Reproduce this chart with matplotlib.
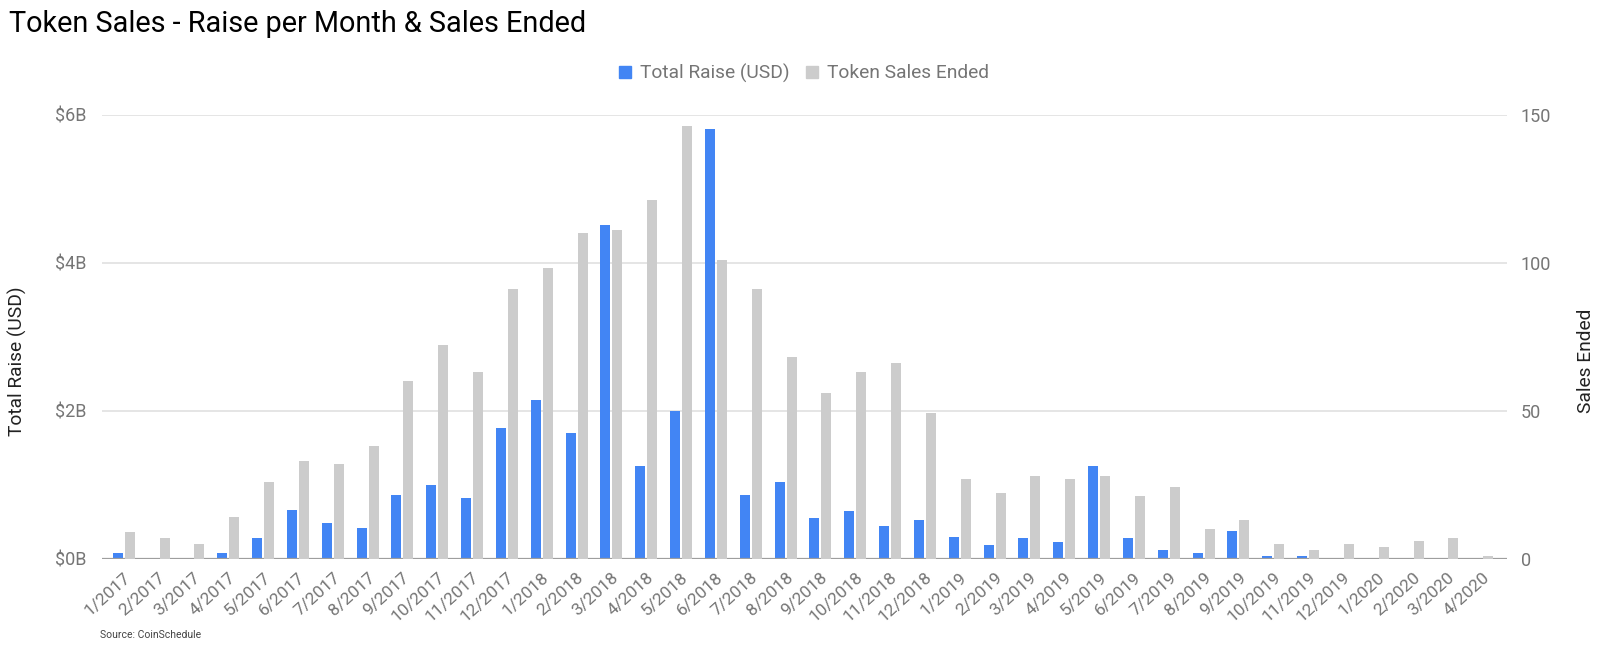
import matplotlib
matplotlib.use("Agg")
import matplotlib.pyplot as plt
import numpy as np
from matplotlib.lines import Line2D
from matplotlib.ticker import FuncFormatter

months = ["1/2017", "2/2017", "3/2017", "4/2017", "5/2017", "6/2017", "7/2017", "8/2017",
          "9/2017", "10/2017", "11/2017", "12/2017", "1/2018", "2/2018", "3/2018", "4/2018",
          "5/2018", "6/2018", "7/2018", "8/2018", "9/2018", "10/2018", "11/2018", "12/2018",
          "1/2019", "2/2019", "3/2019", "4/2019", "5/2019", "6/2019", "7/2019", "8/2019",
          "9/2019", "10/2019", "11/2019", "12/2019", "1/2020", "2/2020", "3/2020", "4/2020"]

# Total raise, billions USD
total_raise_b = [0.07, 0.0, 0.0, 0.07, 0.28, 0.66, 0.48, 0.41, 0.86, 0.99, 0.82, 1.77,
                 2.14, 1.70, 4.51, 1.25, 2.00, 5.81, 0.86, 1.03, 0.55, 0.64, 0.44, 0.52,
                 0.29, 0.18, 0.28, 0.22, 1.25, 0.28, 0.11, 0.07, 0.37, 0.036, 0.03, 0.013,
                 0.013, 0.0, 0.0, 0.0]

# Token sales ended (count)
sales_ended = [9, 7, 5, 14, 26, 33, 32, 38, 60, 72, 63, 91,
               98, 110, 111, 121, 146, 101, 91, 68, 56, 63, 66, 49,
               27, 22, 28, 27, 28, 21, 24, 10, 13, 5, 3, 5,
               4, 6, 7, 1]

left_ticks = [0, 2, 4, 6]
right_ticks = [0, 50, 100, 150]

BLUE = "#4285F4"
GRAY = "#CCCCCC"
FONT = "Roboto"

plt.rcParams["font.family"] = [FONT, "DejaVu Sans"]

fig = plt.figure(figsize=(16, 6.46), dpi=100)
ax = fig.add_axes([0.0636, 0.1354, 0.8781, 0.6873])
ax2 = ax.twinx()

x = np.arange(len(months))
w = 0.287
off = 0.172

ax.bar(x - off, total_raise_b, width=w, color=BLUE, zorder=3)
ax2.bar(x + off, sales_ended, width=w, color=GRAY, zorder=3)

ax.set_xlim(-0.63, 39.7)
ax.set_ylim(0, 6)
ax2.set_ylim(0, 150)

ax.set_yticks(left_ticks)
ax.yaxis.set_major_formatter(FuncFormatter(lambda v, p: f"${v:.0f}B"))
ax2.set_yticks(right_ticks)

for a in (ax, ax2):
    for s in a.spines.values():
        s.set_visible(False)

ax.grid(axis="y", color="#E0E0E0", linewidth=1.2, zorder=0)
ax.set_axisbelow(True)
ax.axhline(0, color="#9E9E9E", linewidth=1.6, zorder=5)

ax.tick_params(axis="y", length=0, pad=11, labelsize=13, labelcolor="#757575")
ax2.tick_params(axis="y", length=0, pad=10, labelsize=13, labelcolor="#757575")

ax.set_xticks(x)
ax.set_xticklabels(months, rotation=42, ha="right", rotation_mode="anchor",
                   fontsize=12.5, color="#757575")
ax.tick_params(axis="x", length=0, pad=8)

fig.text(17 / 1600, 1 - 361 / 646, "Total Raise (USD)", fontsize=13.8, color="#222222",
         rotation=90, ha="center", va="center")
fig.text(1586 / 1600, 1 - 361 / 646, "Sales Ended", fontsize=13.8, color="#222222",
         rotation=90, ha="center", va="center")

fig.text(9 / 1600, 1 - 31.7 / 646, "Token Sales - Raise per Month & Sales Ended",
         fontsize=20.8, color="#000000", ha="left", va="baseline")

handles = [Line2D([], [], marker="s", linestyle="none", markersize=8,
                  markerfacecolor=BLUE, markeredgecolor=BLUE),
           Line2D([], [], marker="s", linestyle="none", markersize=8,
                  markerfacecolor=GRAY, markeredgecolor=GRAY)]
leg = fig.legend(handles, ["Total Raise (USD)", "Token Sales Ended"], ncol=2,
                 loc="center", bbox_to_anchor=(803 / 1600, 1 - 73 / 646),
                 frameon=False, fontsize=13.8, handlelength=0.8, handletextpad=0.37,
                 columnspacing=0.8)
for t in leg.get_texts():
    t.set_color("#757575")

fig.text(100 / 1600, 1 - 638 / 646, "Source: CoinSchedule", fontsize=7.5,
         color="#444444", ha="left", va="baseline")

fig.savefig("out.png", dpi=100)
